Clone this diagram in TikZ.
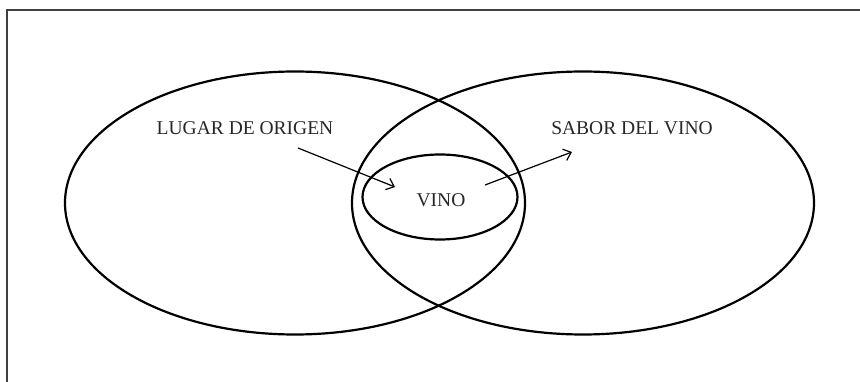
\documentclass[tikz,border=0pt]{standalone}
\usepackage{fontspec}
\setmainfont{Liberation Serif}
\usetikzlibrary{shapes.geometric,arrows.meta}
\begin{document}
\begin{tikzpicture}[x=1pt,y=-1pt,
  setshape/.style={ellipse,draw=black,line width=2.2pt,inner sep=0pt},
  label/.style={font=\fontsize{19.5}{22}\selectfont,inner sep=0pt,text=black!85},
  pointer/.style={line width=1.2pt,-{Straight Barb[length=7pt,width=12pt,line width=1.2pt]}}]
  \useasboundingbox (0,0) rectangle (860,382);
  % open frame: top and left sides only
  \draw[line width=1.3pt,black!75] (860,10) -- (7,10) -- (7,382);
  % the two overlapping sets
  \node[setshape,minimum width=460pt,minimum height=263pt] (origen) at (295,203) {};
  \node[setshape,minimum width=462pt,minimum height=263pt] (sabor) at (583,203) {};
  % the intersection
  \node[setshape,minimum width=155pt,minimum height=85pt] (vino) at (440,197) {};
  \node[label] (vinotxt) at (441,200) {VINO};
  \node[label] (lugar) at (245,128) {LUGAR DE ORIGEN};
  \node[label] (saborlbl) at (632,128) {SABOR DEL VINO};
  % arrows
  \coordinate (a1) at (298,148);
  \coordinate (a2) at (395,187);
  \coordinate (b1) at (485,185);
  \coordinate (b2) at (572,152);
  \draw[pointer] (a1) -- (a2);
  \draw[pointer] (b1) -- (b2);
\end{tikzpicture}
\end{document}
